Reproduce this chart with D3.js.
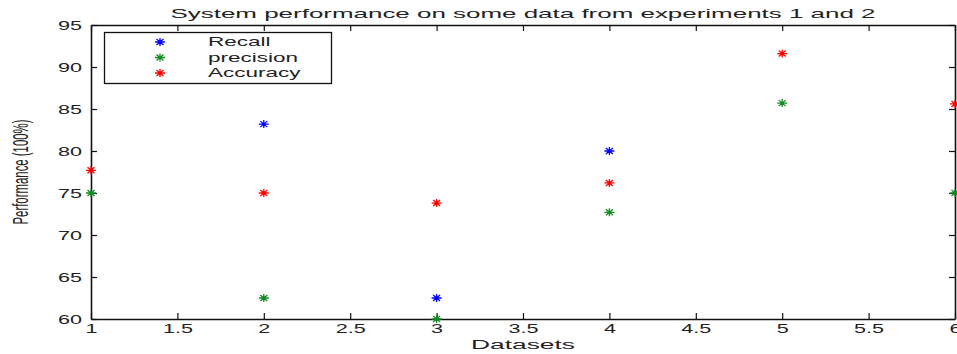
<!DOCTYPE html>
<html>
<head>
<meta charset="utf-8">
<script src="https://cdn.jsdelivr.net/npm/d3@7"></script>
<style>
body { margin: 0; background: #fff; }
svg text { font-family: "Liberation Sans", Arial, sans-serif; }
</style>
</head>
<body>
<script>
// data
var datasets = [1, 2, 3, 4, 5, 6];
var recall = [null, 83.2, 62.5, 80, null, null];
var precision = [75, 62.5, 60, 72.7, 85.7, 75];
var accuracy = [77.7, 75, 73.8, 76.2, 91.6, 85.6];
var seriesNames = ["Recall", "precision", "Accuracy"];
var seriesColors = ["#0000ff", "#118a22", "#ff0000"];
var xTicks = [1, 1.5, 2, 2.5, 3, 3.5, 4, 4.5, 5, 5.5, 6];
var yTicks = [60, 65, 70, 75, 80, 85, 90, 95];

var W = 957, H = 354;
var sx = 1.8; // picture is stretched sideways
var m_left = 91, m_right = 955, m_top = 25, m_bottom = 319;

var svg = d3.select("body").append("svg")
	.attr("width", W)
	.attr("height", H);

var x = d3.scaleLinear().domain([1, 6]).range([m_left, m_right]);
var y = d3.scaleLinear().domain([60, 95]).range([m_bottom, m_top]);

//axes, ticks inside like matlab
var xAxis = svg.append("g")
	.attr("transform", "translate(0," + m_bottom + ")")
	.call(d3.axisBottom(x).tickValues(xTicks).tickSizeInner(-6).tickSizeOuter(0).tickPadding(0)
		.tickFormat(function(d){ return d; }));
xAxis.selectAll("text")
	.attr("y", 14)
	.attr("dy", 0)
	.attr("transform", "scale(" + sx + ",1)")
	.style("font-size", "12px")
	.attr("fill", "#222");

var yAxis = svg.append("g")
	.attr("transform", "translate(" + m_left + ",0)")
	.call(d3.axisLeft(y).tickValues(yTicks).tickSizeInner(-6).tickSizeOuter(0).tickPadding(0));
yAxis.selectAll("text")
	.attr("x", -9 / sx)
	.attr("dy", "0.35em")
	.attr("transform", "scale(" + sx + ",1)")
	.style("font-size", "12px")
	.attr("fill", "#222");

svg.append("g")
	.attr("transform", "translate(0," + m_top + ")")
	.call(d3.axisTop(x).tickValues(xTicks).tickSizeInner(-6).tickSizeOuter(0).tickFormat(""));
svg.append("g")
	.attr("transform", "translate(" + m_right + ",0)")
	.call(d3.axisRight(y).tickValues(yTicks).tickSizeInner(-6).tickSizeOuter(0).tickFormat(""));

svg.selectAll(".domain").attr("stroke", "#111").attr("stroke-width", 1.6);
svg.selectAll(".tick line").attr("stroke", "#111").attr("stroke-width", 1.2);

//asterisk marker
var star = function(g, cx, cy, color){
	var a = 5, b = 4, c = 3.5, e = 3;
	g.append("path")
		.attr("d", "M" + (cx - a) + "," + cy + "H" + (cx + a) +
			"M" + cx + "," + (cy - b) + "V" + (cy + b) +
			"M" + (cx - c) + "," + (cy - e) + "L" + (cx + c) + "," + (cy + e) +
			"M" + (cx - c) + "," + (cy + e) + "L" + (cx + c) + "," + (cy - e))
		.attr("stroke", color)
		.attr("stroke-width", 1.3)
		.attr("fill", "none");
};

var allSeries = [recall, precision, accuracy];
var marks = svg.append("g");
allSeries.forEach(function(vals, i){
	vals.forEach(function(v, j){
		if (v === null) return;
		star(marks, x(datasets[j]), y(v), seriesColors[i]);
	});
});

//title and labels
svg.append("text")
	.attr("x", (m_left + m_right) / 2)
	.attr("y", 18)
	.attr("text-anchor", "middle")
	.attr("textLength", 705)
	.attr("lengthAdjust", "spacingAndGlyphs")
	.style("font-size", "13px")
	.attr("fill", "#222")
	.text("System performance on some data from experiments 1 and 2");

svg.append("text")
	.attr("transform", "translate(28,172) scale(" + sx + ",1) rotate(-90)")
	.attr("text-anchor", "middle")
	.attr("textLength", 105)
	.attr("lengthAdjust", "spacingAndGlyphs")
	.style("font-size", "12px")
	.attr("fill", "#222")
	.text("Performance (100%)");

svg.append("text")
	.attr("x", (m_left + m_right) / 2)
	.attr("y", 349)
	.attr("text-anchor", "middle")
	.attr("textLength", 104)
	.attr("lengthAdjust", "spacingAndGlyphs")
	.style("font-size", "12px")
	.attr("fill", "#222")
	.text("Datasets");

//legend
var legend = svg.append("g");
legend.append("rect")
	.attr("x", 104.5)
	.attr("y", 32.5)
	.attr("width", 227)
	.attr("height", 51)
	.attr("fill", "#fff")
	.attr("stroke", "#111")
	.attr("stroke-width", 1.3);
seriesNames.forEach(function(name, i){
	var ly = 42 + i * 15.5;
	star(legend, 160, ly, seriesColors[i]);
	legend.append("text")
		.attr("x", 208 / sx)
		.attr("y", ly + 4.5)
		.attr("transform", "scale(" + sx + ",1)")
		.style("font-size", "12.5px")
		.attr("fill", "#222")
		.text(name);
});
</script>
</body>
</html>
